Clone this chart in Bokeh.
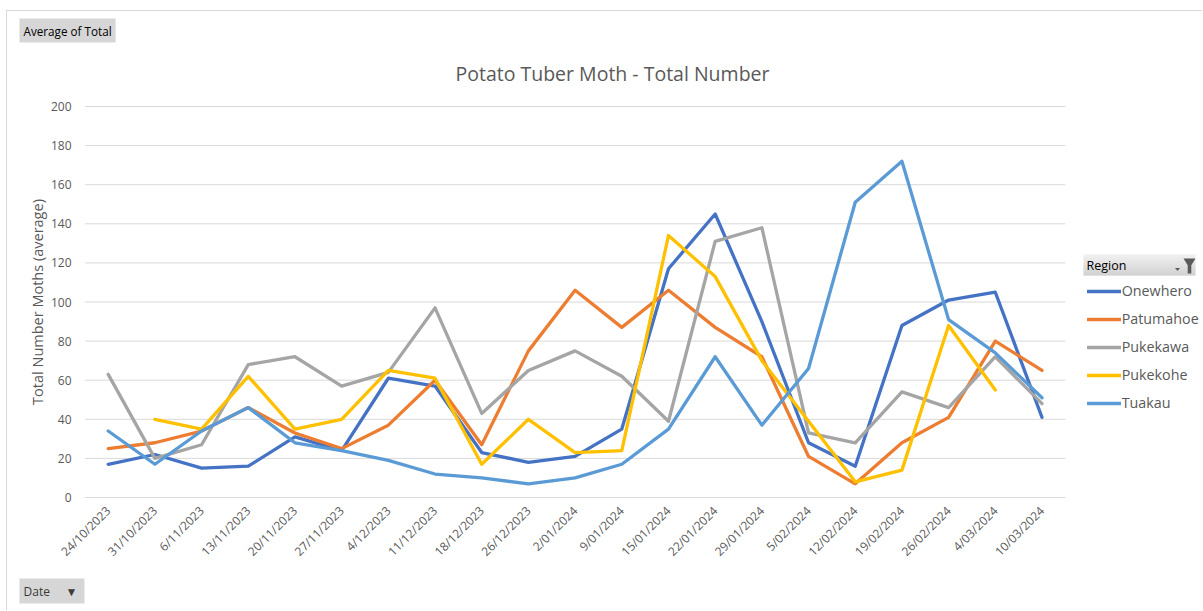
import math
from bokeh.plotting import figure
from bokeh.models import (Range1d, FixedTicker, Label, BoxAnnotation, PolyAnnotation,
                          Legend, LegendItem, Title)
from bokeh.embed import file_html
from bokeh.resources import INLINE

nan = float("nan")

# ---------------- data ----------------
dates = ["24/10/2023", "31/10/2023", "6/11/2023", "13/11/2023", "20/11/2023", "27/11/2023",
         "4/12/2023", "11/12/2023", "18/12/2023", "26/12/2023", "2/01/2024", "9/01/2024",
         "15/01/2024", "22/01/2024", "29/01/2024", "5/02/2024", "12/02/2024", "19/02/2024",
         "26/02/2024", "4/03/2024", "10/03/2024"]

onewhero = [17, 22, 15, 16, 31, 24, 61, 57, 23, 18, 21, 35, 117, 145, 90, 28, 16, 88, 101, 105, 41]
patumahoe = [25, 28, 34, 46, 33, 25, 37, 60, 27, 75, 106, 87, 106, 87, 72, 21, 7, 28, 41, 80, 65]
pukekawa = [63, 20, 27, 68, 72, 57, 64, 97, 43, 65, 75, 62, 39, 131, 138, 33, 28, 54, 46, 72, 48]
pukekohe = [nan, 40, 35, 62, 35, 40, 65, 61, 17, 40, 23, 24, 134, 113, 70, 39, 8, 14, 88, 55, nan]
tuakau = [34, 17, 34, 46, 28, 24, 19, 12, 10, 7, 10, 17, 35, 72, 37, 66, 151, 172, 91, 74, 51]

regions = ["Onewhero", "Patumahoe", "Pukekawa", "Pukekohe", "Tuakau"]
series = [onewhero, patumahoe, pukekawa, pukekohe, tuakau]
colors = ["#4472C4", "#ED7D31", "#A5A5A5", "#FFC000", "#5B9BD5"]

yticks = [0, 20, 40, 60, 80, 100, 120, 140, 160, 180, 200]

title_text = "Potato Tuber Moth - Total Number"
y_title = "Total Number Moths (average)"
button_text = "Average of Total"
legend_title = "Region"
NB = "\u00a0"
x_button_text = "Date" + NB * 5 + "\u25bc" + NB

# ---------------- layout (page pixels) ----------------
OX, OY = 7, 11                      # canvas origin on the page (margin + border)
W, H = 1196, 600
FL, FR, FT, FB = 84, OX + W, 105, 498  # frame edges on the page
X0_PX, X_STEP = 107.7, 46.69         # page x of first category, px per category
Y0_PX, Y_PX = 497.0, 1.955           # page y of value 0, px per unit

TXT = "#595959"
FONT = "Open Sans"

x_start = -(X0_PX - FL) / X_STEP
x_end = x_start + (FR - FL) / X_STEP
y_start = -(FB - Y0_PX) / Y_PX
y_end = y_start + (FB - FT) / Y_PX

p = figure(width=W, height=H, x_range=Range1d(x_start, x_end), y_range=Range1d(y_start, y_end),
           output_backend="svg", toolbar_location=None,
           min_border_left=FL - OX, min_border_right=OX + W - FR,
           min_border_top=FT - OY, min_border_bottom=OY + H - FB)
p.margin = (10, 0, 0, 6)
p.styles = {"border-top": "1px solid #D9D9D9", "border-left": "1px solid #D9D9D9"}
p.outline_line_color = None
p.background_fill_color = "white"
p.border_fill_color = "white"
p.xgrid.grid_line_color = None
p.ygrid.grid_line_color = None

xi = list(range(len(dates)))

# axes
p.xaxis.ticker = FixedTicker(ticks=xi)
p.xaxis.major_label_overrides = {i: d for i, d in zip(xi, dates)}
p.yaxis.ticker = FixedTicker(ticks=yticks)
for ax in (p.xaxis[0], p.yaxis[0]):
    ax.axis_line_color = None
    ax.major_tick_line_color = None
    ax.minor_tick_line_color = None
    ax.major_tick_out = 0
    ax.major_tick_in = 0
    ax.minor_tick_out = 0
    ax.minor_tick_in = 0
    ax.major_label_text_color = TXT
    ax.major_label_text_font = FONT
    ax.major_label_text_font_size = "12px"
p.yaxis.major_label_standoff = 13
p.yaxis.axis_label = y_title
p.yaxis.axis_label_standoff = 1
p.yaxis.axis_label_text_font = FONT
p.yaxis.axis_label_text_font_size = "14.5px"
p.yaxis.axis_label_text_font_style = "normal"
p.yaxis.axis_label_text_color = TXT
p.xaxis.major_label_orientation = math.pi / 4
p.xaxis.major_label_standoff = 10

# horizontal gridlines, spanning the categories only
n = len(yticks)
p.segment(x0=[xi[0] - 0.5] * n, x1=[xi[-1] + 0.5] * n, y0=yticks, y1=yticks,
          line_color="#D9D9D9", line_width=1)

# series lines
items = []
for name, vals, col in zip(regions, series, colors):
    r = p.line(x=xi, y=vals, line_color=col, line_width=3.3, line_join="round", line_cap="round")
    items.append(LegendItem(label=name, renderers=[r]))


def fx(px):
    return px - FL


def fy(py):
    return FB - py


legend = Legend(items=items, location=(fx(1086.7), fy(412.7)), orientation="vertical",
                glyph_width=34, glyph_height=20, label_height=20, spacing=8,
                padding=0, margin=0, label_standoff=1,
                border_line_alpha=0, background_fill_alpha=0,
                label_text_font=FONT, label_text_font_size="14.3px", label_text_color=TXT)
p.add_layout(legend)

# titles above the frame (first added = nearest the frame)
p.add_layout(Title(text=title_text, align="left", offset=455 - FL, vertical_align="top",
                   text_font=FONT, text_font_size="19.5px", text_font_style="normal",
                   text_color=TXT, standoff=34), "above")
p.add_layout(Title(text=button_text, align="left", offset=19 - FL, vertical_align="bottom",
                   text_font=FONT, text_font_size="11.7px", text_font_style="normal",
                   text_color="#000000", standoff=0, padding=4,
                   background_fill_color="#D6D6D6", border_line_color=None), "above")
p.add_layout(Title(text=x_button_text, align="left", offset=19 - FL,
                   text_font=FONT, text_font_size="12px", text_font_style="normal",
                   text_color="#3A3A3A", standoff=16, padding=4,
                   background_fill_color="#D6D6D6", border_line_color=None), "below")


# "Region" legend header (inside the frame)
def gradient_box(x0, y0, x1, y1, top=(0xEB, 0xEB, 0xEB), bot=(0xC4, 0xC4, 0xC4)):
    m = int(round(y1 - y0))
    for i in range(m):
        t = i / max(m - 1, 1)
        c = tuple(int(round(a + (b - a) * t)) for a, b in zip(top, bot))
        p.add_layout(BoxAnnotation(left=fx(x0), right=fx(x1), top=fy(y0 + i), bottom=fy(y0 + i + 1),
                                   left_units="screen", right_units="screen", top_units="screen",
                                   bottom_units="screen", fill_color="#%02x%02x%02x" % c,
                                   fill_alpha=1, line_alpha=0))


def poly(xs, ys, color="#5A5A5A"):
    p.add_layout(PolyAnnotation(xs=[fx(v) for v in xs], ys=[fy(v) for v in ys],
                                xs_units="screen", ys_units="screen",
                                fill_color=color, fill_alpha=1, line_alpha=0))


gradient_box(1083, 254, 1195, 275)
p.add_layout(Label(x=fx(1086), y=fy(265), x_units="screen", y_units="screen", text=legend_title,
                   text_align="left", text_baseline="middle", text_font=FONT,
                   text_font_size="12.5px", text_color="#000000"))
poly([1174.5, 1179.5, 1177], [267.5, 267.5, 270.5])
cx, yt, w, h = 1189, 258, 12, 15
poly([cx - w / 2, cx + w / 2, cx + 1.8, cx + 1.8, cx - 1.8, cx - 1.8],
     [yt, yt, yt + h * 0.45, yt + h, yt + h, yt + h * 0.45])

open("out.html", "w").write(file_html(p, INLINE))
